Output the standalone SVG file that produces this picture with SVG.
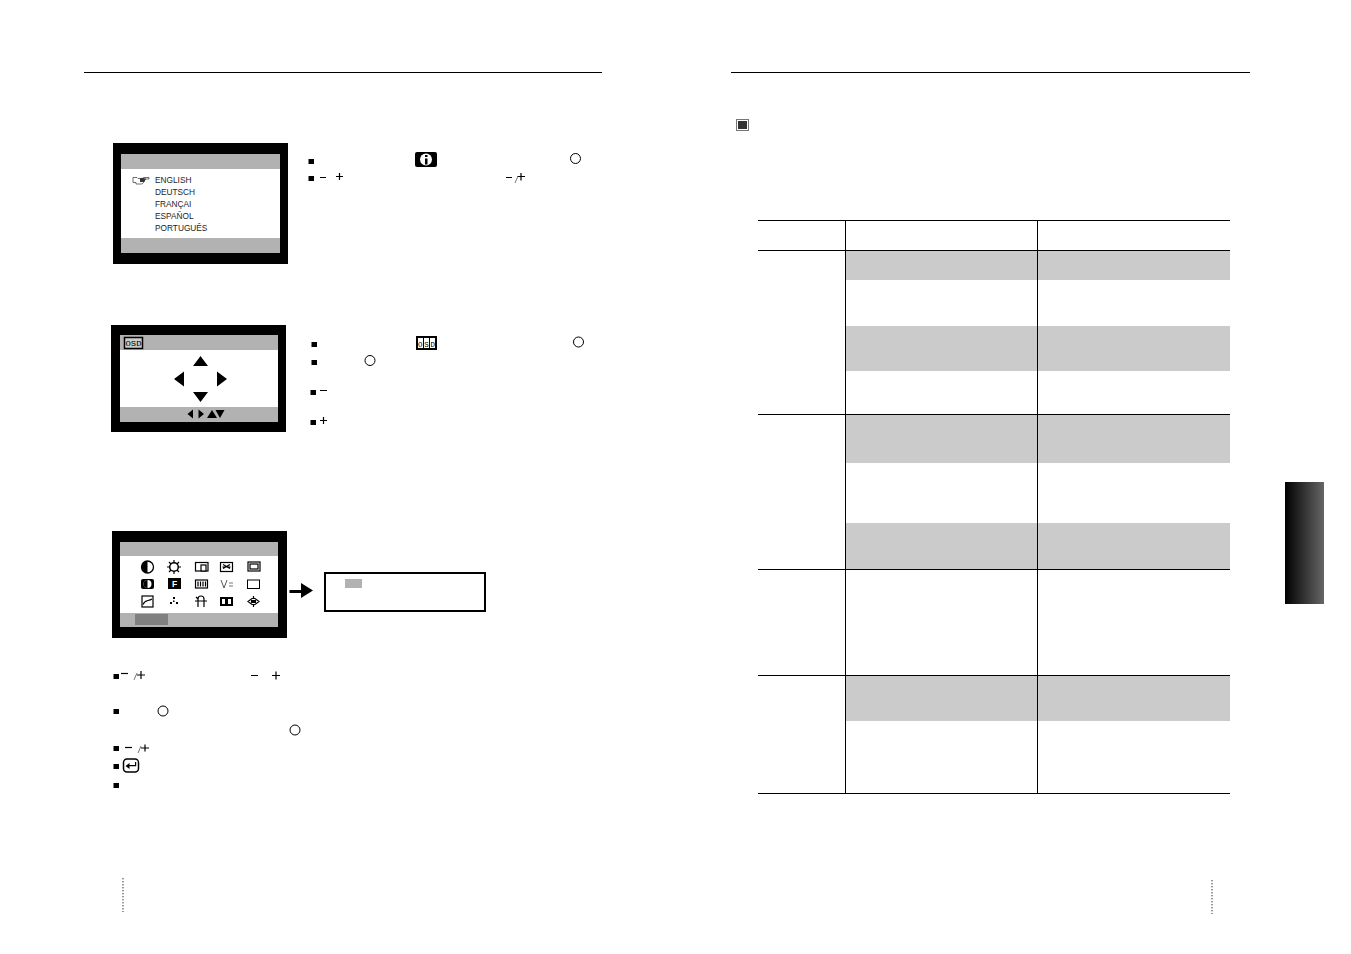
<svg xmlns="http://www.w3.org/2000/svg" width="1351" height="954" viewBox="0 0 1351 954">
<style>
.g{fill:#b2b2b2}.b{fill:#cbcbcb}.k{fill:#000}
.l{stroke:#000;stroke-width:1;fill:none}
.c{fill:#fff;stroke:#000;stroke-width:1}
.t{font-family:"Liberation Sans",Arial,sans-serif;font-size:8.3px;fill:#222}
.o{font-family:"Liberation Mono",monospace;font-size:7.500px;fill:#000}
.w{font-family:"Liberation Sans",Arial,sans-serif;font-size:8.500px;font-weight:bold;fill:#fff}
.m{stroke:#000;stroke-width:1.200;fill:none}
.s{stroke:#555;stroke-width:.8;fill:none}
.d{stroke:#333;stroke-width:1;stroke-dasharray:1.400 1.600;fill:none}
</style>
<defs>
<linearGradient id="tab" x1="0" x2="1" y1="0" y2="0"><stop offset="0" stop-color="#000"/><stop offset="1" stop-color="#666"/></linearGradient>
<g id="bu"><rect width="5.500" height="5" fill="#000"/></g>
</defs>
<rect width="1351" height="954" fill="#fff"/>
<g id="rules">
<rect x="84" y="72" width="518" height="1" class="k"/>
<rect x="731" y="72" width="519" height="1" class="k"/>
<path class="d" d="M123 878V912M1212 880V914"/>
</g>
<g id="screen-language" opacity="0.99">
<rect x="113" y="143" width="175" height="121" class="k"/>
<rect x="121" y="154" width="159" height="90" fill="#fff"/>
<rect x="121" y="154" width="159" height="15" class="g"/>
<rect x="121" y="238" width="159" height="15" class="g"/>
<path d="M133 177.500h4l1 1h4l2-1h5v1.500h-4l-1 3-2 2h-6v-1.500h-3z" fill="#fff" stroke="#333" stroke-width="0.700"/>
<path d="M140 178h4l2 1-2 3h-4z" fill="#333"/>
<text class="t" x="155" y="183">ENGLISH</text>
<text class="t" x="155" y="195">DEUTSCH</text>
<text class="t" x="155" y="207">FRANÇAI</text>
<text class="t" x="155" y="219">ESPAÑOL</text>
<text class="t" x="155" y="231">PORTUGUÊS</text>
</g>
<g id="notes-language">
<use href="#bu" x="308.500" y="159"/><use href="#bu" x="308.500" y="176"/>
<rect x="415" y="152" width="22" height="15" rx="2" class="k"/>
<circle cx="426" cy="159.500" r="6" fill="#fff"/>
<rect x="425" y="158.500" width="2.500" height="6" class="k"/><rect x="425" y="155" width="2.500" height="2" class="k"/>
<circle cx="575.500" cy="158.500" r="5" class="c"/>
<path class="m" d="M320 177.500h6M336 176.500h7M339.500 173v7"/>
<path class="m" d="M506 177.500h6M517.500 176.500h7.500M521 173v7.500"/><path class="s" d="M515 183l3-7"/>
</g>
<g id="screen-position">
<rect x="111" y="325" width="175" height="107" class="k"/>
<rect x="120" y="335" width="158" height="87" fill="#fff"/>
<rect x="120" y="335" width="158" height="15" class="g"/>
<rect x="120" y="407" width="158" height="15" class="g"/>
<rect x="124.500" y="337.500" width="18" height="11" fill="#ccc" stroke="#000" stroke-width="1.500"/>
<text class="o" x="125.500" y="346" textLength="16" lengthAdjust="spacingAndGlyphs">OSD</text>
<path class="k" d="M200.500 356l7.500 10h-15zM174 379l10-7.500v15zM227 379l-10-7.500v15zM200.500 402l-7.500-10h15z"/>
<path class="k" d="M187.500 414l5.500-4.500v9zM204 414l-5.500-4.500v9zM212 410l5 8h-10zM220 418l-4.500-8h9z"/>
</g>
<g id="notes-position">
<use href="#bu" x="311.500" y="342"/><use href="#bu" x="311.500" y="360"/><use href="#bu" x="310.500" y="390"/><use href="#bu" x="310.500" y="420"/>
<rect x="416" y="336" width="21" height="14" class="k"/>
<rect x="418" y="338" width="5" height="10" fill="#fff"/><rect x="424" y="338" width="5" height="10" fill="#fff"/><rect x="430" y="338" width="5" height="10" fill="#fff"/>
<text class="o" x="418" y="346.500" textLength="17" lengthAdjust="spacing">OSD</text>
<circle cx="578.500" cy="342" r="5" class="c"/>
<circle cx="370" cy="360.500" r="5" class="c"/>
<path class="m" d="M320 390.500h7M320 420.500h7M323.500 417v7"/>
</g>
<g id="screen-menu">
<rect x="112" y="531" width="175" height="107" class="k"/>
<rect x="120" y="542" width="158" height="85" fill="#fff"/>
<rect x="120" y="542" width="158" height="14" class="g"/>
<rect x="120" y="613" width="158" height="14" class="g"/>
<rect x="135" y="614" width="33" height="11" fill="#808080"/>
<circle cx="147.500" cy="567" r="6" fill="#fff" stroke="#000" stroke-width="1.300"/><path class="k" d="M147.500 561a6 6 0 0 0 0 12z"/>
<circle cx="174" cy="567" r="4.300" fill="#fff" stroke="#000" stroke-width="1.500"/><path class="m" d="M174 560v2.500M174 571.500v2.500M167 567h2.500M178.500 567h2.500M169 562l2 2M179 562l-2 2M169 572l2-2M179 572l-2-2"/>
<rect x="195.500" y="562.500" width="12.500" height="8.500" fill="#fff" stroke="#000" stroke-width="1.200"/><rect x="201" y="565" width="5" height="6" fill="#fff" stroke="#000" stroke-width="1.200"/>
<rect x="220.500" y="562.500" width="12" height="9" fill="#fff" stroke="#000" stroke-width="1.200"/><path class="m" d="M223 564.500l7 4M230 564.500l-7 4M222.500 567h8"/>
<rect x="248" y="562" width="12" height="9" fill="#fff" stroke="#000" stroke-width="1.200"/><rect x="250" y="564" width="8" height="5" fill="#fff" stroke="#000" stroke-width="1.200"/>
<rect x="141" y="579" width="13" height="10" rx="2" class="k"/><circle cx="147.500" cy="584" r="4" fill="#fff"/><path class="k" d="M147.500 580a4 4 0 0 0 0 8z"/>
<rect x="168" y="578" width="13" height="11" class="k"/>
<text class="w" x="174.500" y="587" text-anchor="middle">F</text>
<rect x="195.500" y="580" width="12" height="8" fill="#fff" stroke="#000" stroke-width="1.200"/><path class="m" d="M198 581.500v5M200.500 581.500v5M203 581.500v5M205.500 581.500v5"/>
<path d="M221 580l3 8 3-8" fill="none" stroke="#444" stroke-width="0.900"/><path d="M229 583h4M229 586h4" stroke="#777" stroke-width="1" fill="none"/>
<rect x="247.500" y="580" width="12" height="8.500" class="c"/>
<rect x="142" y="596" width="11" height="11" fill="#fff" stroke="#000" stroke-width="1.200"/><path class="m" d="M143 604.500c2-5 5-3 9-5.500"/>
<path class="k" d="M173 597h2v2h-2zM170 602h2v2h-2zM176 602h2v2h-2zM173 600.500h1.500v1.500h-1.500z"/>
<path class="m" d="M198 607v-8a3 3 0 0 1 6 0v8M195 601h12M196 597l2 2"/>
<rect x="220" y="597" width="13" height="9" class="k"/><path d="M222 599h3v5h-3zM228 599h3v5h-3z" fill="#fff"/>
<path class="m" d="M248 601.500l4-3h3l4 3-4 3h-3zM253.500 596v2M253.500 605v2"/><rect x="251" y="600" width="5" height="3" class="k"/>
</g>
<g id="arrow-menu">
<path d="M289.500 590h11.500v-7l12 7.500-12 7.500v-5h-11.500z" class="k"/>
</g>
<g id="box-menu">
<rect x="325" y="573" width="160" height="38" fill="#fff" stroke="#000" stroke-width="2"/>
<rect x="345" y="579" width="17" height="9" class="g"/>
</g>
<g id="notes-menu">
<use href="#bu" x="113.500" y="674"/><use href="#bu" x="113.500" y="709"/><use href="#bu" x="113.500" y="746"/><use href="#bu" x="113.500" y="764"/><use href="#bu" x="113.500" y="783"/>
<path class="m" d="M121 673.500h7"/><path class="s" d="M134 680l3-7"/><path class="m" d="M137 675h8M141 671v8"/>
<path class="m" d="M251 675.500h7M272 675.500h8M276 671.500v8"/>
<circle cx="163" cy="711" r="5" class="c"/><circle cx="295" cy="730" r="5" class="c"/>
<path class="m" d="M125 747.500h7"/><path class="s" d="M138 753l3-7"/><path class="m" d="M141 748h8M145 744.500v7"/>
<rect x="123.500" y="759" width="15" height="13" rx="3.500" fill="#fff" stroke="#000" stroke-width="1.500"/>
<path class="k" d="M125.500 766l4-3v2h5.500v-3h1.200v4.200h-6.700v2.800z"/>
</g>
<g id="heading-mark">
<rect x="736.500" y="119.500" width="12" height="11" fill="#fff" stroke="#777" stroke-width="1"/>
<rect x="738" y="121" width="9" height="8" fill="#333"/>
</g>
<g id="table">
<rect x="846" y="251" width="191" height="29" class="b"/><rect x="1038" y="251" width="192" height="29" class="b"/>
<rect x="846" y="326" width="191" height="45" class="b"/><rect x="1038" y="326" width="192" height="45" class="b"/>
<rect x="846" y="415" width="191" height="48" class="b"/><rect x="1038" y="415" width="192" height="48" class="b"/>
<rect x="846" y="523" width="191" height="46" class="b"/><rect x="1038" y="523" width="192" height="46" class="b"/>
<rect x="846" y="676" width="191" height="45" class="b"/><rect x="1038" y="676" width="192" height="45" class="b"/>
<path class="l" d="M758 220.500H1230M758 250.500H1230M758 414.500H1230M758 569.500H1230M758 675.500H1230M758 793.500H1230M845.500 220V793M1037.500 220V793"/>
</g>
<g id="side-tab"><rect x="1285" y="482" width="39" height="122" fill="url(#tab)"/></g>
</svg>
